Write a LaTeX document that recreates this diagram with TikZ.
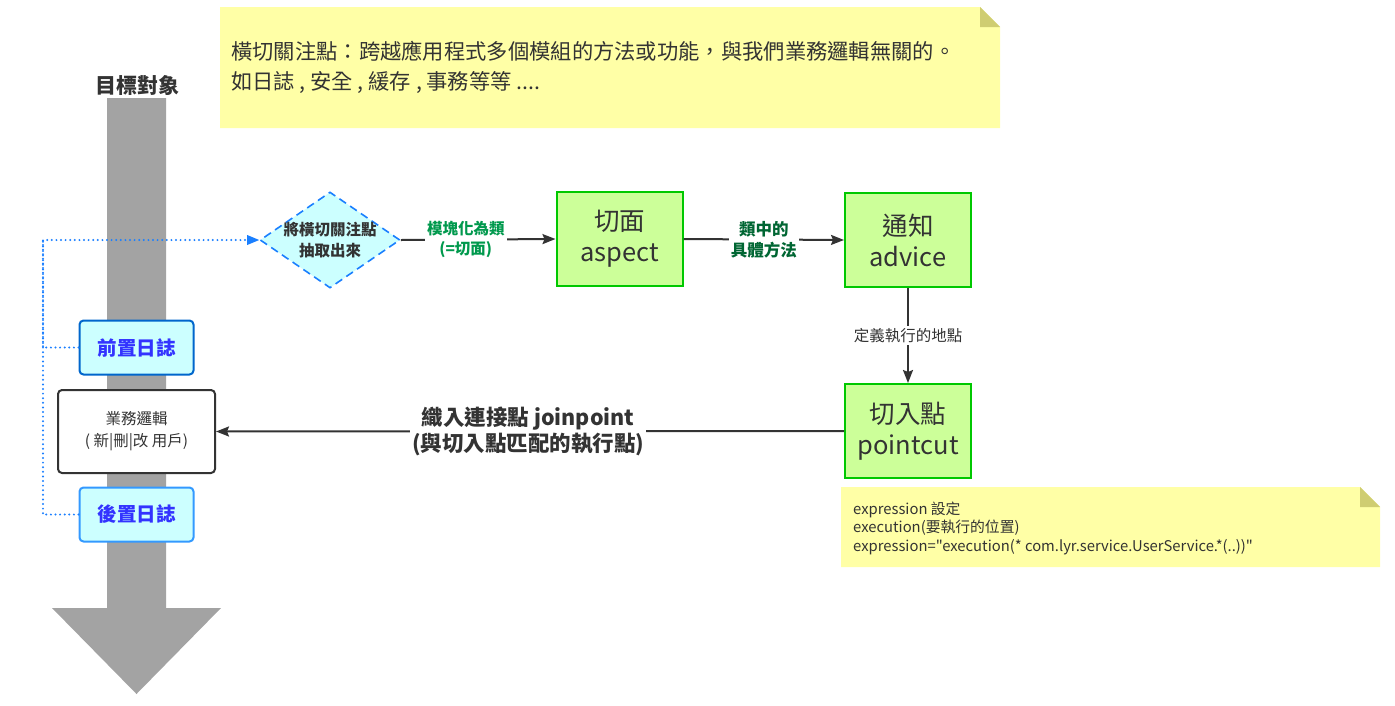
\documentclass[tikz,border=0pt]{standalone}
\usepackage{fontspec}
\setmainfont{Noto Sans CJK TC}
% plain family without TeX ligatures, so straight quotes stay straight
\newfontfamily\codefont{Noto Sans CJK TC}
\usetikzlibrary{arrows.meta,shapes.geometric}

\definecolor{txt}{HTML}{333333}
\definecolor{shaft}{HTML}{A3A3A3}
\definecolor{notefill}{HTML}{FFFFA6}
\definecolor{notefold}{HTML}{CFCD72}
\definecolor{stepfill}{HTML}{CCFF99}
\definecolor{stepline}{HTML}{00C800}
\definecolor{logfill}{HTML}{CCFFFF}
\definecolor{logline}{HTML}{0066CC}
\definecolor{logline2}{HTML}{3399FF}
\definecolor{logtext}{HTML}{3333FF}
\definecolor{dotblue}{HTML}{1A7FFF}
\definecolor{lblgreen}{HTML}{00994D}
\definecolor{lbldark}{HTML}{006633}

\newcommand{\fs}[2]{\fontsize{#1}{#2}\selectfont}

\tikzset{
  stepbox/.style={draw=stepline, line width=2pt, fill=stepfill, text=txt,
    minimum width=126pt, minimum height=94pt, inner sep=0pt, align=center,
    font=\fs{25.5}{31}},
  logbox/.style={draw=logline, line width=2pt, fill=logfill, rounded corners=4pt,
    minimum width=114pt, minimum height=54pt, inner sep=0pt, text=logtext,
    font=\fs{19.5}{23}\bfseries},
  flow/.style={draw=txt, line width=2pt,
    -{Stealth[length=13pt,width=10pt,inset=2pt]}},
  edgelabel/.style={fill=white, inner sep=2pt, align=center},
  dotline/.style={draw=dotblue, line width=2.2pt, dash pattern=on 0pt off 4.6pt,
    line cap=round},
}

\begin{document}
\begin{tikzpicture}[x=1pt,y=-1pt]
\useasboundingbox (0,0) rectangle (1395,705);

% target object: grey downward arrow
\fill[shaft] (107,98) -- (166,98) -- (166,608) -- (221,608) -- (136.5,694)
  -- (52,608) -- (107,608) -- cycle;
\node[text=txt, font=\fs{21}{25}\bfseries] (target) at (137,85) {目標對象};

% top note
\fill[notefill] (220,7) -- (980,7) -- (1000,27) -- (1000,128) -- (220,128) -- cycle;
\fill[notefold] (980,7) -- (1000,27) -- (980,27) -- cycle;
\node[anchor=west, inner sep=0pt, align=left, text=txt, font=\fs{21.3}{30}]
  (crosscut) at (231,67)
  {橫切關注點：跨越應用程式多個模組的方法或功能，與我們業務邏輯無關的。\\
   如日誌 , 安全 , 緩存 , 事務等等 ....};

% extraction decision
\node[diamond, draw=dotblue, dash pattern=on 8pt off 5pt, line width=1.6pt,
  fill=logfill, minimum width=140pt, minimum height=96pt, inner sep=0pt]
  (dia) at (330,240) {};
\node[align=center, text=txt, font=\fs{15.5}{21}\bfseries] (diatext) at (330,240)
  {將橫切關注點\\抽取出來};

% aspect / advice / pointcut
\node[stepbox] (aspect) at (619.5,239) {切面\\aspect};
\node[stepbox] (advice) at (908,240) {通知\\advice};
\node[stepbox] (pointcut) at (908,431) {切入點\\pointcut};

% business logic and logs
\node[draw=txt, line width=2pt, fill=white, rounded corners=4pt,
  minimum width=157pt, minimum height=83pt, inner sep=0pt, align=center,
  text=txt, font=\fs{15.5}{22}] (biz) at (136.5,431.5) {業務邏輯\\( 新|刪|改 用戶)};
\node[logbox] (pre) at (136.5,347.5) {前置日誌};
\node[logbox, draw=logline2] (post) at (136.5,514.5) {後置日誌};

% bottom note
\fill[notefill] (841,487) -- (1360,487) -- (1380,507) -- (1380,567) -- (841,567) -- cycle;
\fill[notefold] (1360,487) -- (1380,507) -- (1360,507) -- cycle;
\node[anchor=west, inner sep=0pt, align=left, text=txt, font=\codefont\fs{14.8}{18.5}]
  (expr) at (853,528)
  {expression 設定\\
   execution(要執行的位置)\\
   expression="execution(* com.lyr.service.UserService.*(..))"};

% connectors
\coordinate (bus) at (43,240);
\draw[dotline] (post.west) -| (bus);
\draw[dotline] (pre.west) -| (bus) -- ([xshift=-11pt]dia.west);
\fill[dotblue] (dia.west) -- ++(-12,-5) -- ++(0,10) -- cycle;

\draw[flow] (dia.east) -- (aspect.west)
  node[pos=0.42, edgelabel, text=lblgreen, font=\fs{15.5}{20}\bfseries] {模塊化為類\\(=切面)};
\draw[flow] (aspect.east) -- (advice.west)
  node[midway, edgelabel, text=lbldark, font=\fs{16.5}{21}\bfseries] {類中的\\具體方法};
\draw[flow] (advice.south) -- (pointcut.north)
  node[midway, edgelabel, text=txt, font=\fs{15.5}{18}] {定義執行的地點};
\draw[flow] (pointcut.west) -- (biz.east)
  node[pos=0.503, edgelabel, text=txt, font=\fs{21.5}{26}\bfseries]
  {織入連接點 joinpoint\\(與切入點匹配的執行點)};
\end{tikzpicture}
\end{document}
